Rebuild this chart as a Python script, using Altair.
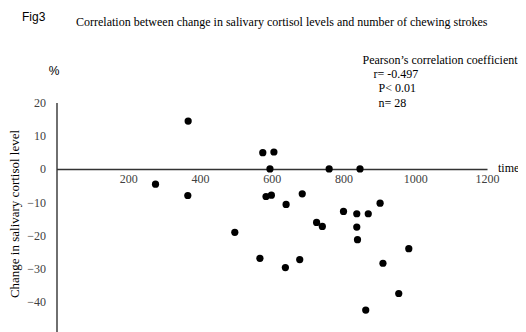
import altair as alt
import pandas as pd

# number of chewing strokes (x) and change in salivary cortisol level in % (y)
chewing_strokes = [367, 575, 606, 595, 276, 366, 584, 599, 685, 640, 725, 497, 567, 678,
                   638, 760, 846, 902, 800, 837, 869, 741, 837, 839, 982, 910, 954, 862]
cortisol_change = [14.4, 4.9, 5.1, 0.0, -4.6, -8.0, -8.3, -7.9, -7.5, -10.7, -16.1, -19.1,
                   -26.9, -27.3, -29.7, 0.0, 0.0, -10.3, -12.8, -13.5, -13.5, -17.3, -17.5,
                   -21.3, -24.0, -28.4, -37.5, -42.5]
x_ticks = [200, 400, 600, 800, 1000, 1200]
y_ticks = [20, 10, 0, -10, -20, -30, -40, -50]

fig_label = "Fig3"
title_text = "Correlation between change in salivary cortisol levels and number of chewing strokes"
y_title = "Change in salivary cortisol level"
y_unit = "%"
x_title = "time"
stats_lines = ["Pearson\u2019s correlation coefficient", "r= -0.497", "P< 0.01", "n= 28"]

df = pd.DataFrame({"time": chewing_strokes, "change": cortisol_change})

serif = "Liberation Serif"
sans = "Liberation Sans"
axis_col = "#333333"
label_col = "#404040"

points = alt.Chart(df).mark_circle(size=52, color="black", opacity=1).encode(
    x=alt.X("time:Q",
            scale=alt.Scale(domain=[0, 1200], nice=False, zero=False),
            axis=alt.Axis(values=x_ticks, format="d", offset=-163.07, ticks=False, grid=False,
                          labelFont=serif, labelFontSize=12, labelColor=label_col,
                          labelPadding=5, labelFlush=False, labelOverlap=False,
                          domainColor=axis_col, domainWidth=1.4, title=None)),
    y=alt.Y("change:Q",
            scale=alt.Scale(domain=[-50, 20], range=[232.5, 0], nice=False, zero=False),
            axis=alt.Axis(values=y_ticks, format="d", ticks=False, grid=False,
                          labelFont=serif, labelFontSize=12, labelColor=label_col,
                          labelPadding=11, labelFlush=False, labelOverlap=False,
                          domainColor=axis_col, domainWidth=1.4, title=None)),
)


def label(text, x, y, font=serif, size=12, align="left", angle=0, color="black"):
    return alt.Chart(pd.DataFrame({"t": [text]})).mark_text(
        font=font, fontSize=size, align=align, baseline="middle", angle=angle, color=color
    ).encode(text="t:N", x=alt.value(x), y=alt.value(y))


texts = [
    label(fig_label, -34.5, -85.5, font=sans, size=12),
    label(title_text, 19.5, -80.5),
    label(y_unit, -2.5, -32, font=sans, size=12, align="center"),
    label(y_title, -41.5, 111.5, size=13, align="center", angle=270),
    label(x_title, 441.5, 65),
    label(stats_lines[0], 306, -42.5),
    label(stats_lines[1], 317, -28.5),
    label(stats_lines[2], 322, -14.5),
    label(stats_lines[3], 322, 0),
]

chart = alt.layer(points, *texts).properties(
    width=430.5,
    height=229.5,
    padding={"left": 48.5, "top": 94.5, "right": 31, "bottom": 0},
    autosize=alt.AutoSizeParams(type="none"),
).configure_view(stroke=None)

chart.save("out.html", embed_options={"renderer": "svg", "actions": False})
